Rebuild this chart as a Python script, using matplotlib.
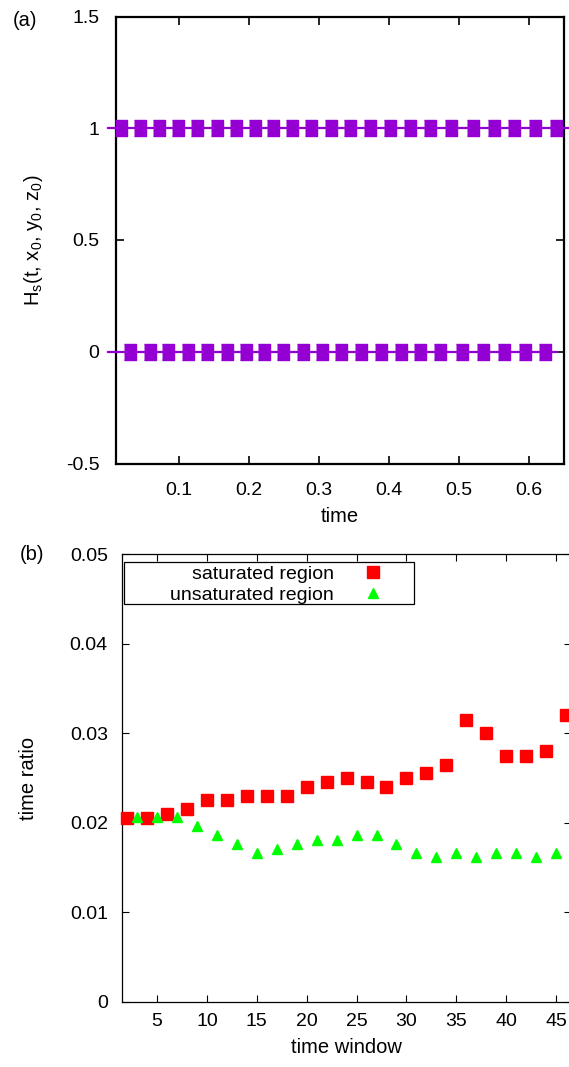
import matplotlib
matplotlib.use("Agg")
import matplotlib.pyplot as plt
from matplotlib.patches import Rectangle
import numpy as np

plt.rcParams['font.family'] = ['Liberation Sans', 'DejaVu Sans']
plt.rcParams['mathtext.fontset'] = 'custom'
plt.rcParams['mathtext.rm'] = 'Liberation Sans'
plt.rcParams['mathtext.it'] = 'Liberation Sans'

# (a) Heaviside indicator at the probe point
t_one = [0.017, 0.044, 0.072, 0.099, 0.126, 0.154, 0.181, 0.208, 0.234, 0.261, 0.289, 0.317,
         0.345, 0.373, 0.402, 0.430, 0.459, 0.489, 0.520, 0.550, 0.579, 0.609, 0.639]
t_zero = [0.030, 0.058, 0.085, 0.113, 0.140, 0.168, 0.196, 0.221, 0.249, 0.277, 0.304,
          0.332, 0.360, 0.389, 0.417, 0.445, 0.473, 0.505, 0.535, 0.565, 0.594, 0.623]
line_one_t = [-0.001, 0.657]
line_zero_t = [-0.001, 0.640]
yticks_a = [-0.5, 0, 0.5, 1, 1.5]
ytick_labels_a = ['-0.5', '0', '0.5', '1', '1.5']
xticks_a = [0.1, 0.2, 0.3, 0.4, 0.5, 0.6]

# (b) time ratio per time window
win_sat = [2, 4, 6, 8, 10, 12, 14, 16, 18, 20, 22, 24, 26, 28, 30, 32, 34, 36, 38, 40, 42, 44, 46]
ratio_sat = [0.0205, 0.0205, 0.021, 0.0215, 0.0225, 0.0225, 0.023, 0.023, 0.023, 0.024, 0.0245,
             0.025, 0.0245, 0.024, 0.025, 0.0255, 0.0265, 0.0315, 0.030, 0.0275, 0.0275, 0.028, 0.032]
win_unsat = [3, 5, 7, 9, 11, 13, 15, 17, 19, 21, 23, 25, 27, 29, 31, 33, 35, 37, 39, 41, 43, 45]
ratio_unsat = [0.0206, 0.0206, 0.0206, 0.0196, 0.0186, 0.0176, 0.0166, 0.0171, 0.0176, 0.0181,
               0.0181, 0.0186, 0.0186, 0.0176, 0.0166, 0.0162, 0.0166, 0.0162, 0.0166, 0.0166,
               0.0162, 0.0166]
xticks_b = [5, 10, 15, 20, 25, 30, 35, 40, 45]
yticks_b = [0, 0.01, 0.02, 0.03, 0.04, 0.05]
ytick_labels_b = ['0', '0.01', '0.02', '0.03', '0.04', '0.05']

W, H = 569, 1067
fig = plt.figure(figsize=(W / 100, H / 100), dpi=100)

def px_axes(left, top, right, bottom):
    return fig.add_axes([left / W, 1 - bottom / H, (right - left) / W, (bottom - top) / H])

purple = '#9400d3'
rect_marker = [(-0.33, -0.5), (0.33, -0.5), (0.33, 0.5), (-0.33, 0.5)]

ax1 = px_axes(116, 16.5, 563.7, 463.5)
ax1.plot(line_one_t, [1, 1], color=purple, lw=1.6, clip_on=False, zorder=3)
ax1.plot(line_zero_t, [0, 0], color=purple, lw=1.6, clip_on=False, zorder=3)
ax1.plot(t_one, np.ones(len(t_one)), ls='none', marker=rect_marker, ms=12,
         color=purple, mec=purple, clip_on=False, zorder=4)
ax1.plot(t_zero, np.zeros(len(t_zero)), ls='none', marker=rect_marker, ms=12,
         color=purple, mec=purple, clip_on=False, zorder=4)
ax1.set_xlim(0.01, 0.65)
ax1.set_ylim(-0.5, 1.5)
ax1.set_xticks(xticks_a)
ax1.set_yticks(yticks_a)
ax1.set_yticklabels(ytick_labels_a)
ax1.tick_params(direction='in', length=6, width=1.2, labelsize=14, top=True, right=True,
                pad=13)
ax1.tick_params(axis='y', pad=12)
for s in ax1.spines.values():
    s.set_linewidth(1.6)
ax1.set_xlabel('time', fontsize=14.5, labelpad=6)
ax1.set_ylabel(r'H$_\mathrm{s}$(t, x$_0$, y$_0$, z$_0$)', fontsize=14.5, labelpad=15)
fig.text(13 / W, 1 - 21 / H, '(a)', fontsize=14.5, va='center', ha='left')

ax2 = px_axes(121.7, 554.2, 571, 1001.7)
ax2.plot(win_sat, ratio_sat, ls='none', marker='s', ms=8, color='#ff0000', mec='#ff0000',
         label='saturated region', clip_on=False, zorder=4)
ax2.plot(win_unsat, ratio_unsat, ls='none', marker='^', ms=6.5, color='#00ff00', mec='#00ff00',
         label='unsaturated region', clip_on=False, zorder=4)
ax2.set_xlim(1.45, 46.5)
ax2.set_ylim(0, 0.05)
ax2.set_xticks(xticks_b)
ax2.set_yticks(yticks_b)
ax2.set_yticklabels(ytick_labels_b)
ax2.tick_params(direction='in', length=5, width=0.8, labelsize=14, top=True, right=True,
                pad=8)
ax2.tick_params(axis='y', pad=10)
for s in ax2.spines.values():
    s.set_linewidth(0.9)
ax2.set_xlabel('time window', fontsize=14.5, labelpad=6)
ax2.set_ylabel('time ratio', fontsize=14.5, labelpad=23)
fig.text(20 / W, 1 - 555 / H, '(b)', fontsize=14.5, va='center', ha='left')

# key: right-aligned labels with symbols after them, inside a plain box
key_box = Rectangle(((124 - 121.7) / 447.5, (1001.7 - 604) / 447.5),
                    (412.7 - 124) / 447.5, (604 - 561.7) / 447.5,
                    transform=ax2.transAxes, fill=True, facecolor='white',
                    edgecolor='black', lw=0.9, zorder=5)
ax2.add_patch(key_box)
leg = ax2.legend(loc='upper right', bbox_to_anchor=((387 - 121.7) / 447.5, (1001.7 - 565) / 447.5),
                 frameon=False, markerfirst=False, fontsize=14, handlelength=1.5,
                 handletextpad=1.3, borderpad=0, labelspacing=0.2, borderaxespad=0)
leg.set_zorder(6)

fig.savefig('out.png', dpi=100)
